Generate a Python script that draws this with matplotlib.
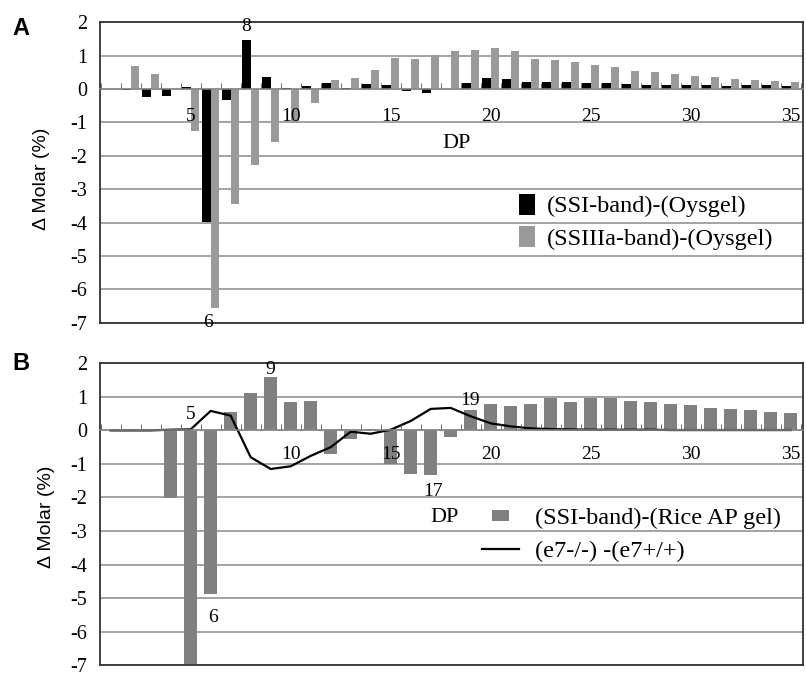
import numpy as np
import matplotlib
matplotlib.use('Agg')
import matplotlib.pyplot as plt
from matplotlib.container import BarContainer
from matplotlib.legend_handler import HandlerPatch, update_from_first_child
from matplotlib.patches import Rectangle

plt.rcParams['font.family'] = ['Liberation Serif', 'DejaVu Serif']
plt.rcParams['axes.unicode_minus'] = False

dp = np.arange(1, 36)

# panel A : band minus Oysgel (molar %)
ssi_oysgel = [0.0, -0.02, -0.25, -0.21, 0.05, -3.99, -0.33, 1.48, 0.35, 0.03,
              0.10, 0.18, 0.02, 0.14, 0.13, -0.05, -0.12, -0.01, 0.19, 0.33,
              0.29, 0.20, 0.20, 0.20, 0.18, 0.18, 0.16, 0.13, 0.11, 0.13,
              0.11, 0.09, 0.11, 0.11, 0.09]
ssiiia_oysgel = [0.0, 0.69, 0.45, -0.03, -1.27, -6.57, -3.43, -2.28, -1.58, -1.02,
                 -0.43, 0.26, 0.34, 0.56, 0.92, 0.90, 1.01, 1.14, 1.18, 1.23,
                 1.13, 0.89, 0.87, 0.80, 0.71, 0.67, 0.54, 0.51, 0.44, 0.38,
                 0.35, 0.29, 0.27, 0.24, 0.20]

# panel B : SSI band minus rice AP gel, and e7 mutant minus wild type
ssi_riceap = [0.0, 0.0, 0.0, -2.02, -6.95, -4.87, 0.54, 1.11, 1.60, 0.84,
              0.87, -0.70, -0.26, 0.05, -1.00, -1.29, -1.34, -0.19, 0.62, 0.79,
              0.73, 0.79, 0.97, 0.84, 0.96, 0.97, 0.88, 0.86, 0.79, 0.75,
              0.67, 0.65, 0.61, 0.56, 0.53]
e7_diff = [0.0, 0.0, 0.0, 0.02, 0.03, 0.58, 0.44, -0.80, -1.15, -1.07,
           -0.76, -0.50, -0.04, -0.10, 0.02, 0.28, 0.64, 0.67, 0.42, 0.21,
           0.12, 0.06, 0.04, 0.03, 0.02, 0.02, 0.02, 0.02, 0.01, 0.01,
           0.01, 0.01, 0.01, 0.01, 0.01]

xticksA = [5, 10, 15, 20, 25, 30, 35]
xticksB = [10, 15, 20, 25, 30, 35]   # the 5 sits behind the DP5 bar in B
yticks = list(range(-7, 3))

fig = plt.figure(figsize=(8.06, 6.74), dpi=100)
axA = fig.add_axes([0.124, 0.521, 0.872, 0.446])
axB = fig.add_axes([0.124, 0.013, 0.872, 0.448])


def style_axes(ax, xticks, labelpad):
	ax.set_xlim(0.465, 35.6)
	ax.set_ylim(-7, 2)
	ax.set_xticks([])
	ax.set_yticks(yticks)
	ax.tick_params(axis='y', length=0, pad=9, labelsize=14.5)
	ax.yaxis.grid(True, color='#8a8a8a', lw=1.1)
	ax.set_axisbelow(True)
	for s in ax.spines.values():
		s.set_color('#333333')
		s.set_linewidth(1.3)
	# category axis crossing at zero
	sec = ax.secondary_xaxis(0, transform=ax.transData)
	sec.set_zorder(5)
	sec.spines['bottom'].set_color('#8a8a8a')
	sec.spines['bottom'].set_linewidth(1.1)
	sec.set_xticks(xticks)
	sec.set_xticks(np.arange(0.5, 36, 1), minor=True)
	sec.tick_params(which='major', length=0, pad=labelpad, labelsize=14)
	sec.tick_params(which='minor', direction='in', length=4, color='#555555')
	ax.set_ylabel('\u0394 Molar (%)', family='Liberation Sans', fontsize=14)


style_axes(axA, xticksA, 14)
style_axes(axB, xticksB, 11)
axA.yaxis.set_label_coords(-0.071, 0.48)
axB.yaxis.set_label_coords(-0.064, 0.49)

# ---- A
barsA1 = axA.bar(dp - 0.21, ssi_oysgel, width=0.42, color='black', label='(SSI-band)-(Oysgel)', zorder=3)
barsA2 = axA.bar(dp + 0.21, ssiiia_oysgel, width=0.42, color='#9a9a9a', label='(SSIIIa-band)-(Oysgel)', zorder=3)
axA.annotate('8', xy=(8 - 0.21, ssi_oysgel[7]), xytext=(0, 9.5), textcoords='offset points',
	ha='center', va='center', fontsize=14)
axA.annotate('6', xy=(5.87, ssiiia_oysgel[5]), xytext=(0, -10), textcoords='offset points',
	ha='center', va='center', fontsize=14)
axA.text(18.3, -1.64, 'DP', ha='center', va='center', fontsize=16)
axA.legend(frameon=False, fontsize=17.5, loc='upper left', bbox_to_anchor=(0.596, 0.43),
	borderpad=0, borderaxespad=0, handlelength=0.66, handleheight=0.95,
	handletextpad=0.5, labelspacing=0.35)

# ---- B
barsB = axB.bar(dp, ssi_riceap, width=0.65, color='#808080', label='(SSI-band)-(Rice AP gel)', zorder=3)
lineB, = axB.plot(dp, e7_diff, color='black', lw=1.6, label='(e7-/-) -(e7+/+)', zorder=4)
axB.annotate('5', xy=(5, 0), xytext=(0, 11.3), textcoords='offset points', ha='center', va='center', fontsize=14)
axB.annotate('6', xy=(6.11, ssi_riceap[5]), xytext=(0, -17), textcoords='offset points', ha='center', va='center', fontsize=14)
axB.annotate('9', xy=(9, ssi_riceap[8]), xytext=(0, 5), textcoords='offset points', ha='center', va='center', fontsize=14)
axB.annotate('17', xy=(17.1, ssi_riceap[16]), xytext=(0, -11.5), textcoords='offset points', ha='center', va='center', fontsize=14)
axB.annotate('19', xy=(18.96, ssi_riceap[18]), xytext=(0, 6.5), textcoords='offset points', ha='center', va='center', fontsize=14)
axB.text(17.67, -2.6, 'DP', ha='center', va='center', fontsize=16)


def small_box(legend, orig_handle, xdescent, ydescent, width, height, fontsize):
	w, h = 12.2, 7.9
	return Rectangle((-xdescent + (width - w) / 2, -ydescent + (height - h) / 2), w, h)


axB.legend(handles=[barsB, lineB], frameon=False, fontsize=17.5, loc='upper left',
	bbox_to_anchor=(0.543, 0.525), borderpad=0, borderaxespad=0, handlelength=1.56,
	handletextpad=0.62, labelspacing=0.48,
	handler_map={BarContainer: HandlerPatch(patch_func=small_box, update_func=update_from_first_child)})

fig.text(12 / 806, 1 - 17 / 674, 'A', family='Liberation Sans', fontweight='bold', fontsize=17, va='top')
fig.text(12 / 806, 1 - 352 / 674, 'B', family='Liberation Sans', fontweight='bold', fontsize=17, va='top')

fig.savefig('out.png', dpi=100)
